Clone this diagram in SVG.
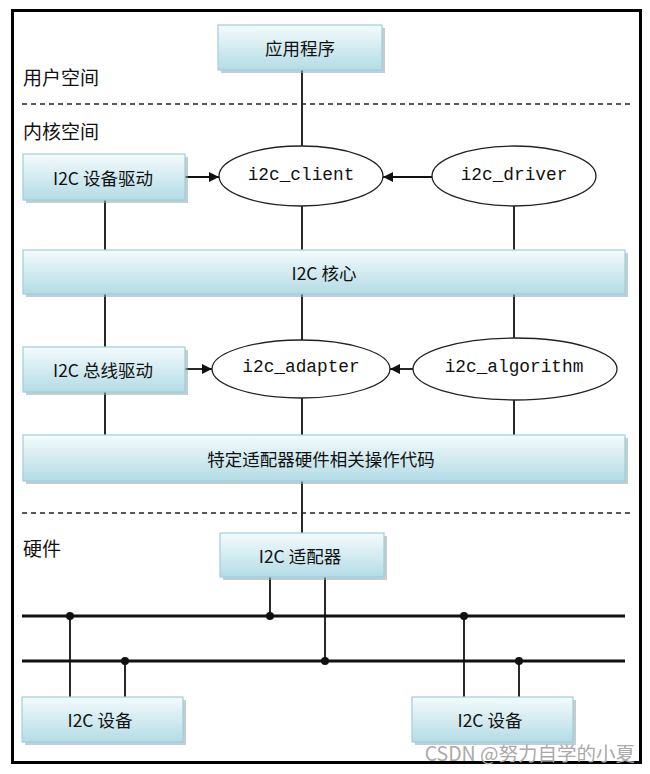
<svg xmlns="http://www.w3.org/2000/svg" width="650" height="774" viewBox="0 0 650 774">
<style>
.box{fill:url(#g);stroke:#9ccfdc;stroke-width:1.2}
.sh{fill:#9aa3a6;opacity:0.55}
.cn{font-family:"Noto Sans CJK SC","Liberation Sans",sans-serif;font-size:17.5px;fill:#111;text-anchor:middle;dominant-baseline:central}
.lbl{font-family:"Noto Sans CJK SC",sans-serif;font-size:19px;fill:#111}
.mono{font-family:"Liberation Mono","DejaVu Sans Mono",monospace;font-size:17.8px;fill:#111;text-anchor:middle;dominant-baseline:central}
.ell{fill:#fff;stroke:#222;stroke-width:1.3}
.ln{stroke:#111;stroke-width:1.8;fill:none}
.bus{stroke:#111;stroke-width:3;fill:none}
.dash{stroke:#222;stroke-width:1.4;stroke-dasharray:5,4;fill:none}
.dot{fill:#111}
</style>
<defs>
<linearGradient id="g" x1="0" y1="0" x2="0" y2="1">
<stop offset="0" stop-color="#f4fbfc"/>
<stop offset="1" stop-color="#b3dce6"/>
</linearGradient>
<marker id="ar" viewBox="0 0 10 10" refX="10" refY="5" markerWidth="10" markerHeight="10" markerUnits="userSpaceOnUse" orient="auto">
<path d="M0,0 L10,5 L0,10 z" fill="#111"/>
</marker>
</defs>
<rect x="0" y="0" width="650" height="774" fill="#fff"/>
<rect x="12.5" y="10.5" width="628" height="752" fill="none" stroke="#000" stroke-width="3"/>

<g id="connectors">
<line class="ln" x1="302" y1="70" x2="302" y2="146"/>
<line class="ln" x1="185" y1="177" x2="219" y2="177" marker-end="url(#ar)"/>
<line class="ln" x1="432" y1="177" x2="383" y2="177" marker-end="url(#ar)"/>
<line class="ln" x1="105" y1="200" x2="105" y2="250"/>
<line class="ln" x1="302" y1="206" x2="302" y2="250"/>
<line class="ln" x1="514" y1="206" x2="514" y2="250"/>
<line class="ln" x1="105" y1="294" x2="105" y2="347"/>
<line class="ln" x1="302" y1="294" x2="302" y2="340"/>
<line class="ln" x1="514" y1="294" x2="514" y2="338"/>
<line class="ln" x1="185" y1="369" x2="212" y2="369" marker-end="url(#ar)"/>
<line class="ln" x1="413" y1="369" x2="390" y2="369" marker-end="url(#ar)"/>
<line class="ln" x1="105" y1="392" x2="105" y2="435"/>
<line class="ln" x1="302" y1="398" x2="302" y2="435"/>
<line class="ln" x1="514" y1="400" x2="514" y2="435"/>
<line class="ln" x1="302" y1="481" x2="302" y2="533"/>
<line class="bus" x1="22" y1="616" x2="625" y2="616"/>
<line class="bus" x1="22" y1="661" x2="625" y2="661"/>
<line class="ln" x1="270" y1="577" x2="270" y2="616"/>
<line class="ln" x1="325" y1="577" x2="325" y2="661"/>
<line class="ln" x1="70" y1="616" x2="70" y2="697"/>
<line class="ln" x1="125" y1="661" x2="125" y2="697"/>
<line class="ln" x1="464" y1="616" x2="464" y2="697"/>
<line class="ln" x1="519" y1="661" x2="519" y2="697"/>
<circle class="dot" cx="270" cy="616" r="4"/>
<circle class="dot" cx="325" cy="661" r="4"/>
<circle class="dot" cx="70" cy="616" r="4"/>
<circle class="dot" cx="125" cy="661" r="4"/>
<circle class="dot" cx="464" cy="616" r="4"/>
<circle class="dot" cx="519" cy="661" r="4"/>
</g>

<line class="dash" x1="22" y1="104" x2="632" y2="104"/>
<line class="dash" x1="22" y1="513" x2="632" y2="513"/>
<text class="lbl" x="23" y="85">用户空间</text>
<text class="lbl" x="23" y="139">内核空间</text>
<text class="lbl" x="23" y="556">硬件</text>

<g id="app">
<rect class="sh" x="221" y="28" width="164" height="45"/>
<rect class="box" x="218" y="25" width="164" height="45"/>
<text class="cn" x="300" y="47">应用程序</text>
</g>
<g id="devdrv">
<rect class="sh" x="26" y="157" width="162" height="46"/>
<rect class="box" x="23" y="154" width="162" height="46"/>
<text class="cn" x="103" y="177">I2C 设备驱动</text>
</g>
<g id="client">
<ellipse class="ell" cx="301" cy="176" rx="82" ry="30"/>
<text class="mono" x="301" y="175">i2c_client</text>
</g>
<g id="driver">
<ellipse class="ell" cx="514" cy="176" rx="82" ry="30"/>
<text class="mono" x="514" y="175">i2c_driver</text>
</g>
<g id="core">
<rect class="sh" x="26" y="253" width="602" height="44"/>
<rect class="box" x="23" y="250" width="602" height="44"/>
<text class="cn" x="324" y="272">I2C 核心</text>
</g>
<g id="busdrv">
<rect class="sh" x="26" y="350" width="162" height="45"/>
<rect class="box" x="23" y="347" width="162" height="45"/>
<text class="cn" x="103" y="369">I2C 总线驱动</text>
</g>
<g id="adapter">
<ellipse class="ell" cx="301" cy="369" rx="89" ry="29"/>
<text class="mono" x="301" y="367">i2c_adapter</text>
</g>
<g id="algorithm">
<ellipse class="ell" cx="515" cy="369" rx="102" ry="31"/>
<text class="mono" x="514" y="367">i2c_algorithm</text>
</g>
<g id="hwcode">
<rect class="sh" x="26" y="438" width="602" height="46"/>
<rect class="box" x="23" y="435" width="602" height="46"/>
<text class="cn" x="321" y="458">特定适配器硬件相关操作代码</text>
</g>
<g id="hwadapter">
<rect class="sh" x="223" y="536" width="164" height="44"/>
<rect class="box" x="220" y="533" width="164" height="44"/>
<text class="cn" x="300" y="555">I2C 适配器</text>
</g>
<g id="dev1">
<rect class="sh" x="25" y="700" width="161" height="45"/>
<rect class="box" x="22" y="697" width="161" height="45"/>
<text class="cn" x="100" y="719">I2C 设备</text>
</g>
<g id="dev2">
<rect class="sh" x="415" y="700" width="161" height="45"/>
<rect class="box" x="412" y="697" width="161" height="45"/>
<text class="cn" x="490" y="719">I2C 设备</text>
</g>
<text x="635" y="761" text-anchor="end" font-family="'Noto Sans CJK SC','Liberation Sans',sans-serif" font-size="19.5px" fill="#aaaaaa">CSDN @努力自学的小夏</text>
</svg>
